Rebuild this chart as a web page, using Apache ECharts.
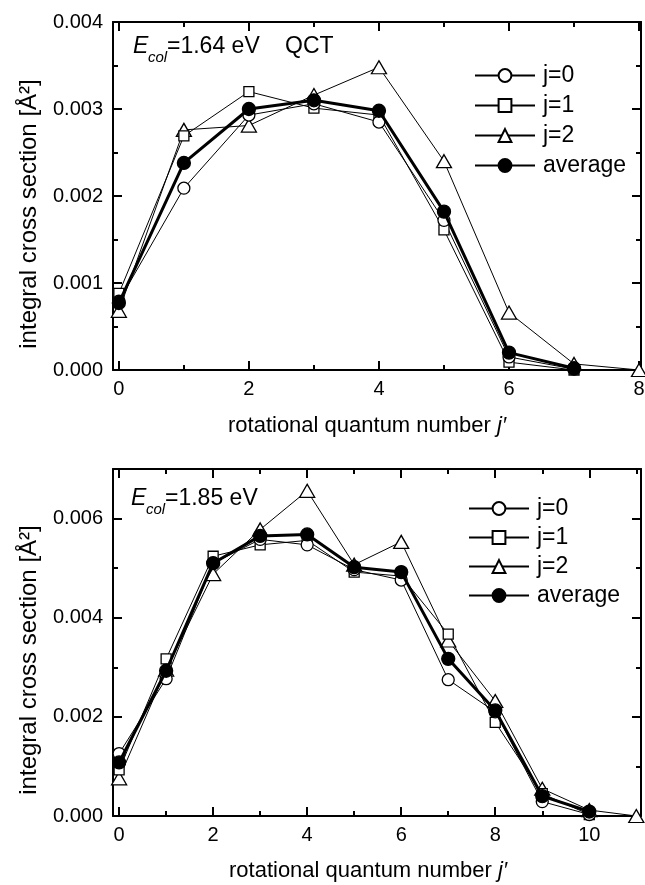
<!DOCTYPE html>
<html>
<head>
<meta charset="utf-8">
<script src="https://cdn.jsdelivr.net/npm/echarts@6/dist/echarts.min.js"></script>
<style>
html,body{margin:0;padding:0;background:#fff;}
#chart{width:645px;height:885px;}
</style>
</head>
<body>
<div id="chart"></div>
<script>
// ---------- data: top panel (E_col = 1.64 eV, QCT) ----------
const jTop = [0, 1, 2, 3, 4, 5, 6, 7, 8];
const top_j0  = [0.00079, 0.00209, 0.00293, 0.00306, 0.00285, 0.00172, 0.00015, 0.00001];
const top_j1  = [0.00088, 0.00269, 0.00320, 0.00301, 0.00293, 0.00161, 0.00009, 0.00000];
const top_j2  = [0.00068, 0.00276, 0.00281, 0.00316, 0.00348, 0.00240, 0.00066, 0.00007, 0.00000];
const top_avg = [0.00077, 0.00238, 0.00300, 0.00310, 0.00298, 0.00182, 0.00020, 0.00002];

// ---------- data: bottom panel (E_col = 1.85 eV) ----------
const jBot = [0, 1, 2, 3, 4, 5, 6, 7, 8, 9, 10, 11];
const bot_j0  = [0.00126, 0.00277, 0.00510, 0.00558, 0.00547, 0.00497, 0.00476, 0.00275, 0.00210, 0.00029, 0.00003];
const bot_j1  = [0.00093, 0.00317, 0.00524, 0.00547, 0.00556, 0.00492, 0.00484, 0.00367, 0.00189, 0.00045, 0.00003];
const bot_j2  = [0.00076, 0.00295, 0.00488, 0.00578, 0.00656, 0.00507, 0.00553, 0.00354, 0.00232, 0.00055, 0.00012, 0.00000];
const bot_avg = [0.00108, 0.00293, 0.00510, 0.00565, 0.00568, 0.00502, 0.00492, 0.00317, 0.00213, 0.00040, 0.00009];

// ---------- tick labels ----------
const xMajorTop = [0, 2, 4, 6, 8];
const xMinorTop = [1, 3, 5, 7];
const yMajorTop = [0, 0.001, 0.002, 0.003, 0.004];
const yMinorTop = [0.0005, 0.0015, 0.0025, 0.0035];
const xMajorBot = [0, 2, 4, 6, 8, 10];
const xMinorBot = [1, 3, 5, 7, 9, 11];
const yMajorBot = [0, 0.002, 0.004, 0.006];
const yMinorBot = [0.001, 0.003, 0.005];

const seriesNames = ['j=0', 'j=1', 'j=2', 'average'];
const xTitle = 'rotational quantum number ';
const xTitleItalic = 'j\u2032';
const yTitle = 'integral cross section [\u00C5\u00B2]';

const FONT = 'Liberation Sans, Arial, sans-serif';
const BLACK = '#000';

function zip(xs, ys) { return ys.map((v, i) => [xs[i], v]); }

const panels = [
  { grid: { left: 113, top: 22, width: 528, height: 348 },
    xMin: -0.09, xMax: 8.03, yMin: 0, yMax: 0.004,
    xMaj: xMajorTop, xMin_: xMinorTop, yMaj: yMajorTop, yMin_: yMinorTop,
    x: jTop, d: [top_j0, top_j1, top_j2, top_avg] },
  { grid: { left: 113, top: 469, width: 528, height: 347 },
    xMin: -0.13, xMax: 11.1, yMin: 0, yMax: 0.007,
    xMaj: xMajorBot, xMin_: xMinorBot, yMaj: yMajorBot, yMin_: yMinorBot,
    x: jBot, d: [bot_j0, bot_j1, bot_j2, bot_avg] }
];

const grids = [], xAxes = [], yAxes = [], series = [];

panels.forEach((p, gi) => {
  grids.push(Object.assign({ outerBoundsMode: 'none', containLabel: false }, p.grid));
  const base = (pos, isX, vals, len, showLine, showLabel) => ({
    type: 'value', gridIndex: gi, position: pos,
    min: isX ? p.xMin : p.yMin, max: isX ? p.xMax : p.yMax,
    axisLine: { show: showLine, onZero: false, lineStyle: { color: BLACK, width: 2 } },
    axisTick: { show: true, inside: true, length: len, customValues: vals,
                lineStyle: { color: BLACK, width: 2 } },
    axisLabel: { show: showLabel, customValues: vals, color: BLACK,
                 fontFamily: FONT, fontSize: 20, margin: isX ? 9 : 10,
                 formatter: isX ? (v => String(Math.round(v))) : (v => v.toFixed(3)) },
    splitLine: { show: false }, minorTick: { show: false }
  });
  xAxes.push(base('bottom', true, p.xMaj, 9, true, true));
  xAxes.push(base('bottom', true, p.xMin_, 5, false, false));
  xAxes.push(base('top', true, p.xMaj, 9, true, false));
  xAxes.push(base('top', true, p.xMin_, 5, false, false));
  yAxes.push(base('left', false, p.yMaj, 9, true, true));
  yAxes.push(base('left', false, p.yMin_, 5, false, false));
  yAxes.push(base('right', false, p.yMaj, 9, true, false));
  yAxes.push(base('right', false, p.yMin_, 5, false, false));

  const styles = [
    { symbol: 'circle', symbolSize: 12, fill: '#fff', lw: 1 },
    { symbol: 'rect', symbolSize: 10, fill: '#fff', lw: 1 },
    { symbol: 'triangle', symbolSize: [15, 13], fill: '#fff', lw: 1 },
    { symbol: 'circle', symbolSize: 13, fill: '#000', lw: 3 }
  ];
  [2, 1, 0, 3].forEach(si => {
    const s = styles[si];
    series.push({
      name: seriesNames[si], type: 'line',
      xAxisIndex: gi * 4, yAxisIndex: gi * 4,
      data: zip(p.x, p.d[si]),
      symbol: s.symbol, symbolSize: s.symbolSize, showAllSymbol: true,
      lineStyle: { color: BLACK, width: s.lw },
      itemStyle: { color: s.fill, borderColor: BLACK, borderWidth: 1.3 },
      emphasis: { disabled: true }, animation: false, clip: false,
      z: si === 3 ? 4 : 3
    });
  });
});

const legendCommon = {
  orient: 'vertical', data: seriesNames, itemWidth: 60, itemHeight: 16,
  textStyle: { color: BLACK, fontFamily: FONT, fontSize: 23, padding: [0, 0, 0, 3] },
  selectedMode: false
};

const txt = (x, y, text, size, italic) => ({
  type: 'text', left: x, top: y,
  style: { text: text, fontFamily: FONT, fontSize: size, fill: BLACK,
           fontStyle: italic ? 'italic' : 'normal' }
});

const xTitleText = (cx, cy) => ({
  type: 'text', x: cx, y: cy,
  style: { text: xTitle + '{i|' + xTitleItalic + '}', fontFamily: FONT, fontSize: 22, fill: BLACK,
           align: 'center', verticalAlign: 'middle',
           rich: { i: { fontStyle: 'italic', fontFamily: FONT, fontSize: 22, fill: BLACK } } }
});

const yTitleText = (cx, cy) => ({
  type: 'text', x: cx, y: cy, rotation: Math.PI / 2,
  style: { text: yTitle, fontFamily: FONT, fontSize: 24, fill: BLACK,
           align: 'center', verticalAlign: 'middle' }
});

const option = {
  animation: false,
  backgroundColor: '#fff',
  grid: grids, xAxis: xAxes, yAxis: yAxes, series: series,
  legend: [
    Object.assign({ left: 469, top: 59, itemGap: 7 }, legendCommon),
    Object.assign({ left: 463, top: 492, itemGap: 6 }, legendCommon)
  ],
  graphic: [
    txt(133, 35, 'E', 23, true),
    txt(148, 50, 'col', 15, true),
    txt(167, 35, '=1.64 eV', 23, false),
    txt(285, 35, 'QCT', 23, false),
    txt(131, 487, 'E', 23, true),
    txt(146, 502, 'col', 15, true),
    txt(165, 487, '=1.85 eV', 23, false),
    xTitleText(367, 426),
    xTitleText(368, 871),
    yTitleText(29, 214),
    yTitleText(29, 660)
  ]
};

const chart = echarts.init(document.getElementById('chart'), null, { renderer: 'canvas' });
chart.setOption(option);
</script>
</body>
</html>
